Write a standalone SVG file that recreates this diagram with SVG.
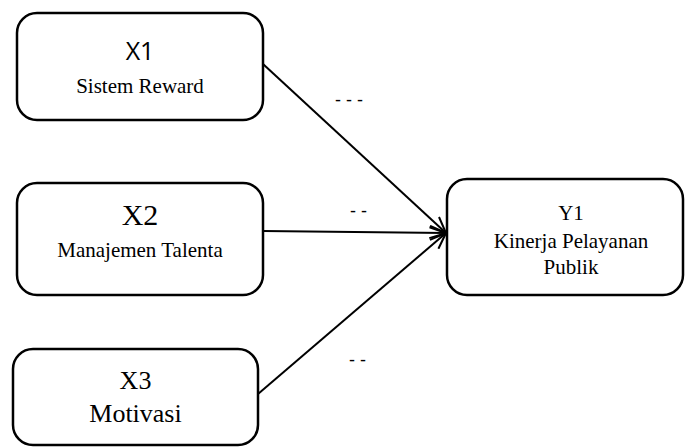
<svg xmlns="http://www.w3.org/2000/svg" width="685" height="448" viewBox="0 0 685 448">
<defs>
<style>
.box{fill:#fff;stroke:#000;stroke-width:2.5}
.serif{font-family:"Liberation Serif","Times New Roman",serif;fill:#000;text-anchor:middle}
.sans{font-family:"Open Sans","Liberation Sans",sans-serif;fill:#000;text-anchor:middle}
.conn{stroke:#000;stroke-width:2;fill:none}
.dash{font-family:"Liberation Sans",Arial,sans-serif;font-size:18px;fill:#000}
</style>
<marker id="arr" viewBox="0 0 18 16" refX="17" refY="8" markerWidth="18" markerHeight="16" markerUnits="userSpaceOnUse" orient="auto">
<path d="M1,1 L17,8 L1,15" fill="none" stroke="#000" stroke-width="2"/>
</marker>
</defs>
<rect width="685" height="448" fill="#fff"/>
<g id="connectors">
<line class="conn" x1="263" y1="64" x2="446" y2="233" marker-end="url(#arr)"/>
<line class="conn" x1="263" y1="231" x2="446" y2="233" marker-end="url(#arr)"/>
<line class="conn" x1="258" y1="394" x2="446" y2="233" marker-end="url(#arr)"/>
<text class="dash" x="335" y="106">- - -</text>
<text class="dash" x="350" y="217">- -</text>
<text class="dash" x="349" y="366">- -</text>
</g>
<g id="X1">
<rect class="box" x="17" y="13" width="246" height="107" rx="20"/>
<text class="sans" x="140" y="60" font-size="25">X1</text>
<text class="serif" x="140" y="93" font-size="21">Sistem Reward</text>
</g>
<g id="X2">
<rect class="box" x="17" y="183" width="246" height="112" rx="20"/>
<text class="serif" x="140" y="225" font-size="30">X2</text>
<text class="serif" x="140" y="257" font-size="21">Manajemen Talenta</text>
</g>
<g id="X3">
<rect class="box" x="13" y="349" width="245" height="96" rx="20"/>
<text class="serif" x="135.5" y="389" font-size="26">X3</text>
<text class="serif" x="135.5" y="422" font-size="26">Motivasi</text>
</g>
<g id="Y1">
<rect class="box" x="447" y="179" width="236" height="116" rx="20"/>
<text class="serif" x="571" y="220" font-size="21">Y1</text>
<text class="serif" x="571" y="248" font-size="21">Kinerja Pelayanan</text>
<text class="serif" x="571" y="274" font-size="21">Publik</text>
</g>
</svg>
